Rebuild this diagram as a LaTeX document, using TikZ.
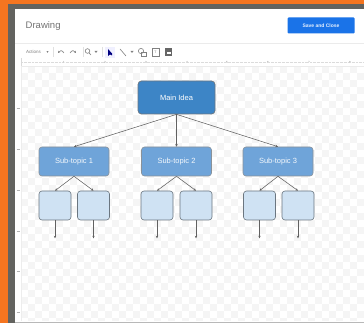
\documentclass[tikz,border=0pt]{standalone}
\usepackage{fontspec}
\setmainfont{Liberation Sans}
\usetikzlibrary{arrows.meta,positioning}
\definecolor{orangebg}{HTML}{F57520}
\definecolor{frame}{HTML}{63635F}
\definecolor{mainblue}{HTML}{3D85C6}
\definecolor{midblue}{HTML}{6FA4D9}
\definecolor{lightblue}{HTML}{CFE2F3}
\definecolor{edgec}{HTML}{6B7680}
\definecolor{btn}{HTML}{1A73E8}
\definecolor{grey1}{HTML}{808080}
\tikzset{
  x=1pt,y=-1pt,
  mainbox/.style={draw=edgec,line width=.7pt,rounded corners=3.5pt,fill=mainblue,text=white,font=\fontsize{7.5}{9}\selectfont,minimum width=77pt,minimum height=33pt,inner sep=0pt},
  subbox/.style={draw=edgec!80,line width=.6pt,rounded corners=3pt,fill=midblue,text=white!92!midblue,font=\fontsize{7.5}{9}\selectfont,minimum width=70pt,minimum height=29pt,inner sep=0pt},
  leafbox/.style={draw=edgec,line width=.6pt,rounded corners=3pt,fill=lightblue,minimum width=32pt,minimum height=29pt,inner sep=0pt},
  conn/.style={draw=black!62,line width=.55pt,-{Stealth[length=2.6pt,width=2.4pt]}},
  uitext/.style={text=grey1,font=\fontsize{4.5}{5}\selectfont,inner sep=0pt},
  tick/.style={text=grey1,font=\fontsize{3}{3}\selectfont,inner sep=0pt},
  icon/.style={draw=grey1,line width=.6pt},
}
\begin{document}
\begin{tikzpicture}
\useasboundingbox (0,0) rectangle (364,323);
% backdrop
\fill[orangebg] (0,0) rectangle (364,323);
\fill[frame] (8,4) rectangle (364,323);
\fill[white] (15,9) rectangle (364,321.5);
\fill[black!28] (15,321.5) rectangle (364,323);
% checkerboard canvas
\fill[white!96!black] (21,66) rectangle (364,321);
\foreach \i in {0,...,49}{\foreach \j in {0,...,36}{
  \pgfmathtruncatemacro{\k}{mod(\i+\j,2)}
  \ifnum\k=0 \fill[white] ({21+\i*7},{66+\j*7}) rectangle ({min(364,28+\i*7)},{min(321,73+\j*7)});\fi
}}
% header
\node[anchor=west,inner sep=0pt,text=black!55,font=\fontsize{9.5}{11}\selectfont] (title) at (25.5,26) {Drawing};
\node[fill=btn,rounded corners=1pt,text=white!90!btn,font=\bfseries\fontsize{5}{6}\selectfont,minimum width=67pt,minimum height=16pt,inner sep=0pt] (save) at (321,25.5) {Save and Close};
\draw[black!8,line width=.5pt] (15,43.5) -- (364,43.5);
% toolbar
\node[uitext,anchor=west] (actions) at (26,52) {Actions};
\fill[grey1] (46.5,51.2) -- (48.5,51.2) -- (47.5,52.8) -- cycle;
\draw[black!12] (53,47) -- (53,57);
\draw[icon,{Stealth[length=2pt,width=2.5pt]}-] (58,53) .. controls (60,50) and (62,50) .. (64,53);
\draw[icon,-{Stealth[length=2pt,width=2.5pt]}] (70,53) .. controls (72,50) and (74,50) .. (76,53);
\draw[black!12] (83,47) -- (83,57);
\draw[icon] (87.5,51) circle (2.3);
\draw[icon] (89,52.8) -- (91,55);
\fill[grey1] (94.5,51) -- (97.5,51) -- (96,53) -- cycle;
\draw[black!12] (102,47) -- (102,57);
\fill[blue!6] (105,47) rectangle (115,58);
\fill[black!50!blue] (108,49) -- (108,56) -- (110,54.5) -- (112,55.5) -- (112,53.5) -- cycle;
\draw[icon] (120,49) -- (126,56);
\fill[grey1] (130.5,51) -- (133.5,51) -- (132,53) -- cycle;
\draw[icon] (141,51) circle (2.6);
\draw[icon] (141.5,52) rectangle (146,56.5);
\draw[icon] (152,48.5) rectangle (159,56);
\node[inner sep=0pt,text=grey1,font=\fontsize{3.5}{4}\selectfont] (tb) at (155.5,52.5) {T};
\fill[black!60] (165,48.5) rectangle (172,56);
\fill[white] (166.5,52) rectangle (170.5,54.5);
% ruler
\fill[white] (15,58) rectangle (364,66);
\draw[black!14,line width=.35pt,densely dotted] (21,62.5) -- (364,62.5);
\draw[black!8,line width=.4pt] (15,66) -- (364,66);
\draw[black!15,line width=.4pt] (21,58) -- (21,66);
\foreach \n/\xx in {1/64,2/105,3/146,4/187,5/227,6/268,7/309,8/350}{
  \node[tick,fill=white,inner sep=.5pt] (r\n) at (\xx,62.5) {\n};
}
% left ruler
\fill[white] (15,66) rectangle (21,321);
\draw[black!7,line width=.4pt] (21,66) -- (21,321);
\foreach \yy in {108,149,190,231,271,312}{
  \draw[black!30,line width=.5pt] (16.5,\yy) -- (19.5,\yy);
}
% diagram
\node[mainbox] (main) at (176.5,97.5) {Main Idea};
\node[subbox] (s1) at (74,161.5) {Sub-topic 1};
\node[subbox] (s2) at (176.5,161.5) {Sub-topic 2};
\node[subbox] (s3) at (278,161.5) {Sub-topic 3};
\node[leafbox] (a1) at (55,205.5) {};
\node[leafbox] (a2) at (93.5,205.5) {};
\node[leafbox] (b1) at (157,205.5) {};
\node[leafbox] (b2) at (196,205.5) {};
\node[leafbox] (c1) at (259.5,205.5) {};
\node[leafbox] (c2) at (298,205.5) {};
\foreach \n in {a1,a2,b1,b2,c1,c2}{
  \coordinate (\n e) at ([yshift=-18pt]\n.south);
  \draw[conn] (\n.south) -- (\n e);
}
\draw[conn] (main.south) -- (s1.north);
\draw[conn] (main.south) -- (s2.north);
\draw[conn] (main.south) -- (s3.north);
\draw[conn] (s1.south) -- (a1.north);
\draw[conn] (s1.south) -- (a2.north);
\draw[conn] (s2.south) -- (b1.north);
\draw[conn] (s2.south) -- (b2.north);
\draw[conn] (s3.south) -- (c1.north);
\draw[conn] (s3.south) -- (c2.north);
\end{tikzpicture}
\end{document}
